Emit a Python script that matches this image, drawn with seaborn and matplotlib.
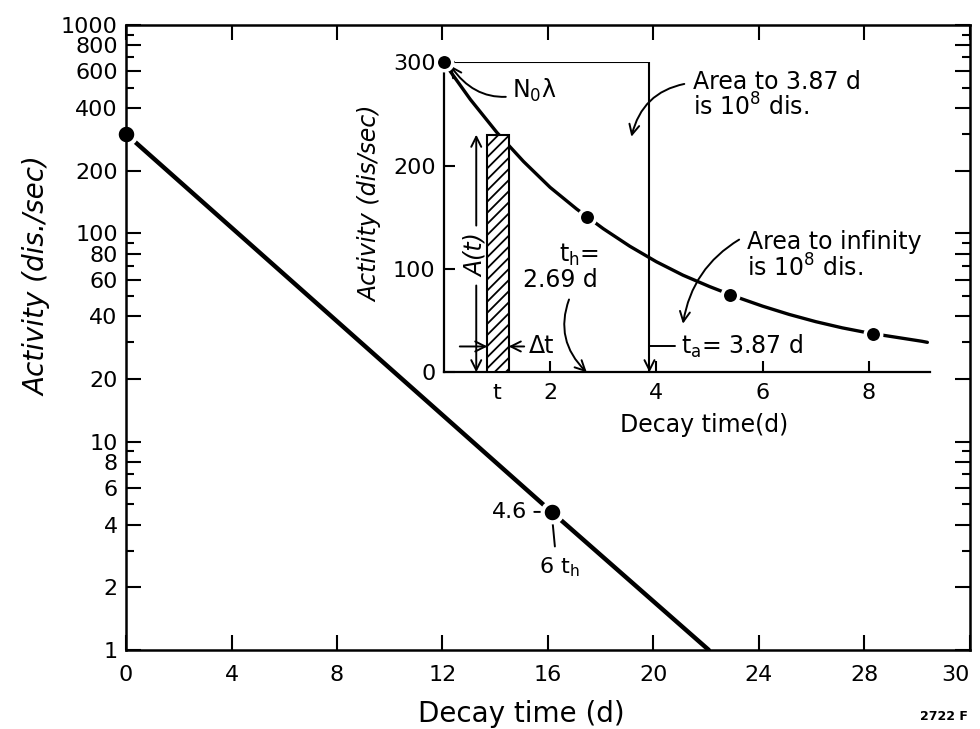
import numpy as np
import matplotlib
matplotlib.use("Agg")
import matplotlib.pyplot as plt
from matplotlib.ticker import FixedLocator, NullFormatter
import seaborn as sns

sns.set_style('ticks')
plt.rcParams['font.family'] = ['DejaVu Sans']
plt.rcParams['hatch.linewidth'] = 1.3
for key in ['text.color', 'axes.labelcolor', 'xtick.color', 'ytick.color', 'axes.edgecolor']:
    plt.rcParams[key] = 'black'

# main plot: activity on a log scale
main_t = [0, 16.14, 22.1]
main_a = [300, 4.6, 1.0]
main_dot_t = [0, 16.14]
main_dot_a = [300, 4.6]
main_yticks = [1, 2, 4, 6, 8, 10, 20, 40, 60, 80, 100, 200, 400, 600, 800, 1000]
main_yminor = [3, 5, 7, 9, 30, 50, 70, 90, 300, 500, 700, 900]
main_xticks = [0, 4, 8, 12, 16, 20, 24, 28, 32]
main_xlabels = ['0', '4', '8', '12', '16', '20', '24', '28', '30']

# inset: linear decay curve
curve_t = [0, 0.5, 1.0, 1.5, 2.0, 2.5, 3.0, 3.5, 4.0, 4.5, 5.0, 5.5, 6.0, 6.5,
           7.0, 7.5, 8.0, 8.5, 9.0, 9.1]
curve_a = [300, 264, 232, 204, 179, 158, 139, 122, 107, 94, 83, 73, 64, 56,
           49, 43, 38, 34, 30, 29]
dot_t = [0, 2.69, 5.38, 8.07]
dot_a = [300, 150, 75, 37]
a0 = 300
t_h = 2.69
t_a = 3.87
t_bar = 1.02
dt_bar = 0.4
a_bar = 230
inset_xticks = [1.0, 2, 4, 6, 8]
inset_xlabels = ['t', '2', '4', '6', '8']
inset_yticks = [0, 100, 200, 300]

fig = plt.figure(figsize=(9.8, 7.29), dpi=100)
ax = fig.add_axes([0.1286, 0.1084, 0.861, 0.8573])

sns.lineplot(x=main_t, y=main_a, ax=ax, color='k', lw=3.2, estimator=None, sort=False)
sns.scatterplot(x=main_dot_t, y=main_dot_a, ax=ax, s=200, color='k', edgecolor='white',
                linewidth=3, zorder=5, clip_on=False, legend=False)

ax.set_yscale('log')
ax.set_ylim(1, 1000)
ax.set_xlim(0, 32)
ax.yaxis.set_major_locator(FixedLocator(main_yticks))
ax.set_yticklabels([str(v) for v in main_yticks])
ax.yaxis.set_minor_locator(FixedLocator(main_yminor))
ax.yaxis.set_minor_formatter(NullFormatter())
ax.set_xticks(main_xticks)
ax.set_xticklabels(main_xlabels)
ax.get_xticklabels()[-1].set_horizontalalignment('right')
ax.tick_params(which='both', direction='in', top=True, right=True, width=1.5, labelsize=16)
ax.tick_params(which='major', length=11)
ax.tick_params(which='minor', length=6)
ax.tick_params(axis='x', pad=11)
ax.tick_params(axis='y', pad=6)
for s in ax.spines.values():
    s.set_linewidth(1.8)
    s.set_zorder(10)

ax.set_xlabel('Decay time (d)', fontsize=20)
ax.xaxis.set_label_coords(0.469, -0.08)
ax.set_ylabel('Activity (dis./sec)', fontsize=20, style='italic')
ax.yaxis.set_label_coords(-0.088, 0.598)

ax.annotate('4.6', xy=(16.14, 4.6), xytext=(15.2, 4.6), fontsize=16, ha='right', va='center',
            arrowprops=dict(arrowstyle='-', color='k', lw=1.4, shrinkA=3, shrinkB=0))
ax.annotate('6 t$_\\mathrm{h}$', xy=(16.14, 4.6), xytext=(16.45, 2.5), fontsize=16,
            ha='center', va='center',
            arrowprops=dict(arrowstyle='-', color='k', lw=1.4, shrinkA=4, shrinkB=0,
                            relpos=(0.4, 1)))

fig.text(0.963, 0.008, '2722 F', fontsize=9, fontweight='bold', ha='center', va='bottom')

# inset
axi = fig.add_axes([0.4529, 0.4893, 0.4961, 0.4252])
axi.set_facecolor('none')
sns.lineplot(x=curve_t, y=curve_a, ax=axi, color='k', lw=2.4, estimator=None, sort=False,
             zorder=2)
sns.scatterplot(x=dot_t, y=dot_a, ax=axi, s=140, color='k', edgecolor='white',
                linewidth=2.5, zorder=4, clip_on=False, legend=False)
axi.bar(t_bar, a_bar, width=dt_bar, facecolor='white', edgecolor='k', hatch='///',
        lw=1.5, zorder=3)
axi.plot([0, t_a, t_a], [a0, a0, 0], color='k', lw=1.5, zorder=1)

axi.set_xlim(0, 9.15)
axi.set_ylim(0, 300)
axi.set_xticks(inset_xticks)
axi.set_xticklabels(inset_xlabels)
axi.set_yticks(inset_yticks)
axi.tick_params(direction='in', length=8, width=1.5, labelsize=16)
axi.tick_params(axis='x', pad=8)
axi.tick_params(axis='y', pad=6)
axi.spines['top'].set_visible(False)
axi.spines['right'].set_visible(False)
for side in ['left', 'bottom']:
    axi.spines[side].set_linewidth(1.6)
axi.set_xlabel('Decay time(d)', fontsize=17)
axi.xaxis.set_label_coords(0.535, -0.13)
axi.set_ylabel('Activity (dis/sec)', fontsize=17, style='italic')
axi.yaxis.set_label_coords(-0.127, 0.545)

arrow = dict(arrowstyle='->', color='k', lw=1.4, mutation_scale=18)
axi.annotate('N$_0$λ', xy=(0.12, 297), xytext=(1.28, 273), fontsize=17, ha='left', va='center',
             arrowprops=dict(arrow, connectionstyle='arc3,rad=-0.4', shrinkA=2, shrinkB=0))
axi.annotate('Area to 3.87 d\nis 10$^8$ dis.', xy=(3.53, 228), xytext=(4.69, 268),
             fontsize=17, ha='left', va='center', linespacing=1.0,
             arrowprops=dict(arrow, connectionstyle='arc3,rad=0.35', shrinkA=4, shrinkB=0,
                             relpos=(0, 0.75)))
axi.annotate('Area to infinity\nis 10$^8$ dis.', xy=(4.5, 47), xytext=(5.71, 113),
             fontsize=17, ha='left', va='center', linespacing=1.0,
             arrowprops=dict(arrow, connectionstyle='arc3,rad=0.25', shrinkA=4, shrinkB=0,
                             relpos=(0, 0.9)))
axi.text(2.55, 114, 't$_\\mathrm{h}$=', fontsize=17, ha='center', va='center')
axi.annotate('2.69 d', xy=(t_h, 0), xytext=(2.2, 89), fontsize=17, ha='center', va='center',
             arrowprops=dict(arrow, connectionstyle='arc3,rad=0.35', shrinkA=3, shrinkB=0,
                             relpos=(0.65, 0)))
axi.annotate('t$_\\mathrm{a}$= 3.87 d', xy=(t_a, 0), xytext=(4.46, 25), fontsize=17,
             ha='left', va='center',
             arrowprops=dict(arrow, connectionstyle='angle,angleA=180,angleB=90,rad=0',
                             shrinkA=2, shrinkB=0))
axi.annotate('', xy=(t_bar - dt_bar / 2, 25), xytext=(0.3, 25),
             arrowprops=dict(arrow, shrinkA=0, shrinkB=0))
axi.annotate('Δt', xy=(t_bar + dt_bar / 2, 25), xytext=(1.6, 25), fontsize=17,
             ha='left', va='center', arrowprops=dict(arrow, shrinkA=1, shrinkB=0))
axi.text(0.61, 113, 'A(t)', fontsize=17, style='italic', rotation=90, ha='center', va='center')
axi.annotate('', xy=(0.61, a_bar), xytext=(0.61, 142),
             arrowprops=dict(arrow, shrinkA=0, shrinkB=0))
axi.annotate('', xy=(0.61, 0), xytext=(0.61, 84),
             arrowprops=dict(arrow, shrinkA=0, shrinkB=0))

fig.savefig('out.png', dpi=100)
